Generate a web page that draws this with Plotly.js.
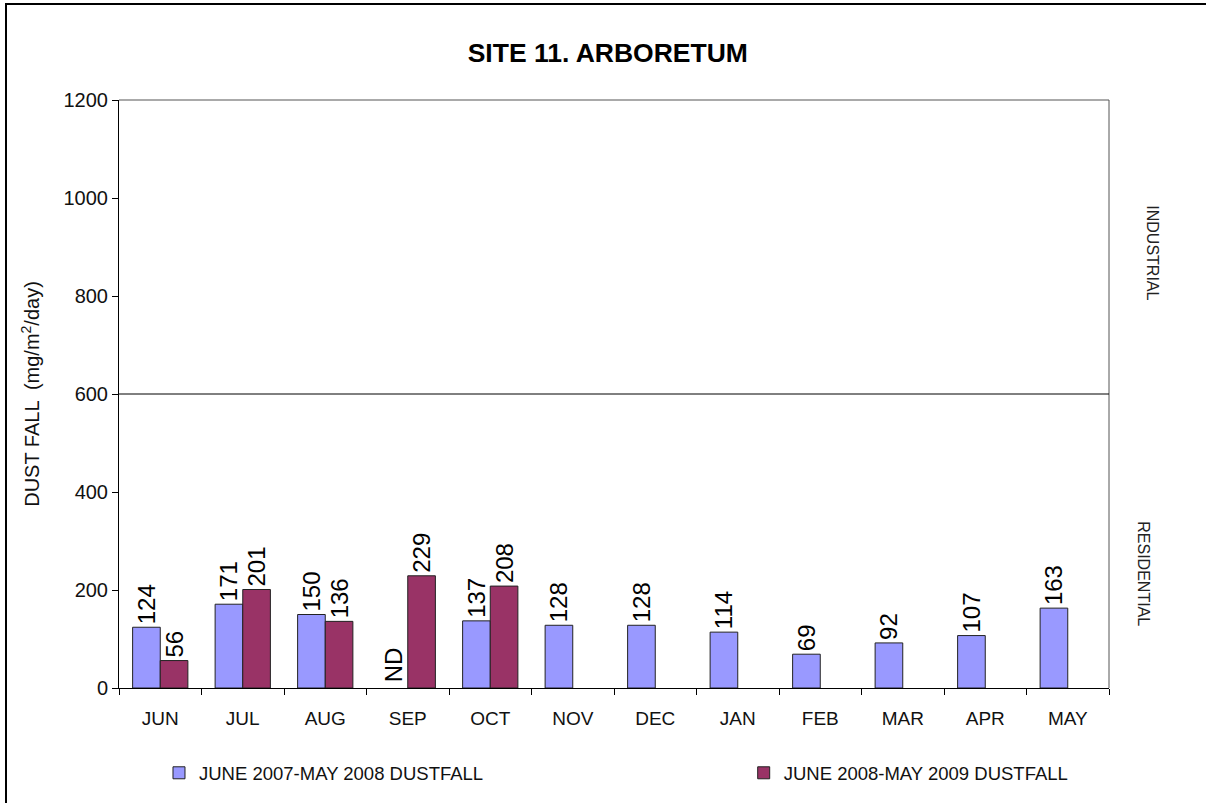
<!DOCTYPE html>
<html>
<head>
<meta charset="utf-8">
<script src="https://cdn.plot.ly/plotly-3.0.1.min.js"></script>
<style>
  body { margin: 0; overflow: hidden; background: #fff; }
  #myDiv { position: absolute; left: 0; top: 0; width: 1206px; height: 803px; }
  #frame { position: absolute; left: 5px; top: 3px; width: 1400px; height: 1000px;
           border-top: 2px solid #000; border-left: 2px solid #000; pointer-events: none; }
</style>
</head>
<body>
<div id="myDiv"></div>
<div id="frame"></div>
<script>
var months = ['JUN', 'JUL', 'AUG', 'SEP', 'OCT', 'NOV', 'DEC', 'JAN', 'FEB', 'MAR', 'APR', 'MAY'];
var dust0708 = [124, 171, 150, null, 137, 128, 128, 114, 69, 92, 107, 163];
var dust0809 = [56, 201, 136, 229, 208, null, null, null, null, null, null, null];
var yTicks = [0, 200, 400, 600, 800, 1000, 1200];
var boundary = 600;

function labels(arr) {
  return arr.map(function (v) { return v === null ? '' : String(v); });
}

var font = 'Arial, "Liberation Sans", sans-serif';

var trace1 = {
  x: months,
  y: dust0708,
  type: 'bar',
  name: 'JUNE 2007-MAY 2008 DUSTFALL',
  legend: 'legend',
  text: labels(dust0708),
  textposition: 'outside',
  textangle: -90,
  constraintext: 'none',
  cliponaxis: false,
  textfont: { family: font, size: 24, color: '#000' },
  marker: { color: '#9999FF', line: { color: '#222', width: 1 } }
};

var trace2 = {
  x: months,
  y: dust0809,
  type: 'bar',
  name: 'JUNE 2008-MAY 2009 DUSTFALL',
  legend: 'legend2',
  text: labels(dust0809),
  textposition: 'outside',
  textangle: -90,
  constraintext: 'none',
  cliponaxis: false,
  textfont: { family: font, size: 24, color: '#000' },
  marker: { color: '#993366', line: { color: '#222', width: 1 } }
};

var data = [trace1, trace2];

var legendFont = { family: font, size: 18.5, color: '#111' };

var layout = {
  width: 1206,
  height: 803,
  margin: { l: 119, r: 97, t: 100, b: 115, autoexpand: false },
  paper_bgcolor: '#fff',
  plot_bgcolor: '#fff',
  font: { family: font, color: '#111' },
  barmode: 'group',
  bargap: 0.33,
  bargroupgap: 0,
  showlegend: true,
  title: {
    text: '<b>SITE 11. ARBORETUM</b>',
    font: { family: font, size: 26.5, color: '#000' },
    x: 0.504, xref: 'container', xanchor: 'center',
    y: 0.934, yref: 'container', yanchor: 'middle'
  },
  xaxis: {
    type: 'category',
    tickson: 'boundaries',
    ticks: 'outside',
    ticklen: 6,
    tickcolor: '#000',
    ticklabelstandoff: 13,
    showline: true,
    linecolor: '#000',
    linewidth: 1,
    showgrid: false,
    tickfont: { family: font, size: 19, color: '#111' }
  },
  yaxis: {
    range: [0, 1200],
    tickvals: yTicks,
    ticks: 'outside',
    ticklen: 6,
    tickcolor: '#000',
    showline: true,
    linecolor: '#000',
    linewidth: 1,
    showgrid: false,
    zeroline: false,
    tickfont: { family: font, size: 20, color: '#111' },
    title: {
      text: 'DUST FALL  (mg/m<sup>2</sup>/day)',
      font: { family: font, size: 20, color: '#111' },
      standoff: 18
    }
  },
  legend: {
    orientation: 'h',
    x: 0.0404, xanchor: 'left',
    y: -0.145, yanchor: 'middle',
    font: legendFont,
    bgcolor: 'rgba(0,0,0,0)'
  },
  legend2: {
    orientation: 'h',
    x: 0.631, xanchor: 'left',
    y: -0.145, yanchor: 'middle',
    font: legendFont,
    bgcolor: 'rgba(0,0,0,0)'
  },
  shapes: [
    { type: 'line', xref: 'paper', yref: 'paper', x0: 0, x1: 1, y0: 1, y1: 1,
      line: { color: '#555', width: 1 } },
    { type: 'line', xref: 'paper', yref: 'paper', x0: 1, x1: 1, y0: 0, y1: 1,
      line: { color: '#555', width: 1 } },
    { type: 'line', xref: 'paper', yref: 'y', x0: 0, x1: 1, y0: boundary, y1: boundary,
      line: { color: '#000', width: 1 } }
  ],
  annotations: [
    { text: 'ND', x: 'SEP', y: 0, xref: 'x', yref: 'y', xshift: -14, yshift: 4,
      textangle: -90, xanchor: 'center', yanchor: 'bottom', showarrow: false,
      font: { family: font, size: 24, color: '#000' } },
    { text: 'INDUSTRIAL', xref: 'paper', yref: 'paper', x: 1.044, y: 0.74,
      textangle: 90, xanchor: 'center', yanchor: 'middle', showarrow: false,
      font: { family: font, size: 16, color: '#222' } },
    { text: 'RESIDENTIAL', xref: 'paper', yref: 'paper', x: 1.034, y: 0.194,
      textangle: 90, xanchor: 'center', yanchor: 'middle', showarrow: false,
      font: { family: font, size: 16, color: '#222' } }
  ]
};

Plotly.newPlot('myDiv', data, layout, { displayModeBar: false, staticPlot: true });
</script>
</body>
</html>
